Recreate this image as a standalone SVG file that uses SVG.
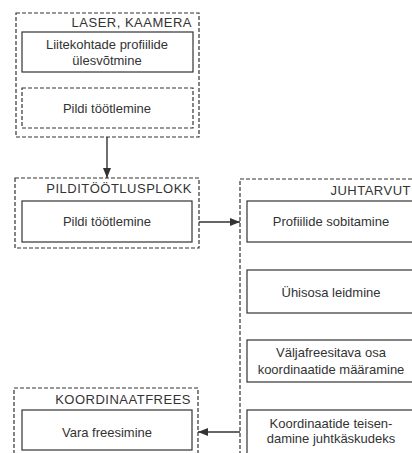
<svg xmlns="http://www.w3.org/2000/svg" width="412" height="453" viewBox="0 0 412 453">
<style>
.outer{fill:none;stroke:#333;stroke-width:1.2;stroke-dasharray:4 2}
.solid{fill:none;stroke:#333;stroke-width:1.2}
.dash{fill:none;stroke:#333;stroke-width:1.2;stroke-dasharray:4 2}
.t{font-family:"Liberation Sans",Arial,sans-serif;font-size:13px;fill:#333;text-anchor:middle}
.h{font-family:"Liberation Sans",Arial,sans-serif;font-size:13px;fill:#333;text-anchor:end;letter-spacing:0.5px}
.c{stroke:#333;stroke-width:1.4;fill:none}
</style>
<defs>
<marker id="ah" viewBox="0 0 10 8" refX="10" refY="4" markerWidth="10" markerHeight="8" markerUnits="userSpaceOnUse" orient="auto">
<path d="M0,0 L10,4 L0,8 Z" fill="#333"/>
</marker>
</defs>
<rect width="412" height="453" fill="#fff"/>
<g id="laser">
<rect class="outer" x="16" y="13" width="183" height="124"/>
<text class="h" x="192" y="27">LASER, KAAMERA</text>
<rect class="solid" x="22" y="32" width="171" height="40"/>
<text class="t" x="107" y="49">Liitekohtade profiilide</text>
<text class="t" x="107" y="65">ülesvõtmine</text>
<rect class="dash" x="22" y="88" width="171" height="40"/>
<text class="t" x="107" y="113">Pildi töötlemine</text>
</g>
<g id="pilditootlusplokk">
<rect class="outer" x="15" y="178" width="184" height="70"/>
<text class="h" x="192" y="193">PILDITÖÖTLUSPLOKK</text>
<rect class="solid" x="22" y="201" width="170" height="41"/>
<text class="t" x="107" y="226">Pildi töötlemine</text>
</g>
<g id="juhtarvuti">
<rect class="outer" x="240" y="179" width="190" height="290"/>
<text class="h" x="411" y="195">JUHTARVUT</text>
<rect class="solid" x="247" y="201" width="180" height="41"/>
<text class="t" x="331" y="226">Profiilide sobitamine</text>
<rect class="solid" x="247" y="270" width="180" height="43"/>
<text class="t" x="331" y="297">Ühisosa leidmine</text>
<rect class="solid" x="247" y="340" width="180" height="42"/>
<text class="t" x="331" y="357">Väljafreesitava osa</text>
<text class="t" x="331" y="374">koordinaatide määramine</text>
<rect class="solid" x="247" y="410" width="180" height="60"/>
<text class="t" x="331" y="428">Koordinaatide teisen-</text>
<text class="t" x="331" y="443">damine juhtkäskudeks</text>
</g>
<g id="koordinaatfrees">
<rect class="outer" x="14" y="388" width="184" height="80"/>
<text class="h" x="191" y="404">KOORDINAATFREES</text>
<rect class="solid" x="22" y="410" width="170" height="40"/>
<text class="t" x="107" y="437">Vara freesimine</text>
</g>
<g id="connectors">
<line class="c" x1="107" y1="137" x2="107" y2="178" marker-end="url(#ah)"/>
<line class="c" x1="199" y1="222" x2="240" y2="222" marker-end="url(#ah)"/>
<line class="c" x1="240" y1="432" x2="198" y2="432" marker-end="url(#ah)"/>
</g>
</svg>
